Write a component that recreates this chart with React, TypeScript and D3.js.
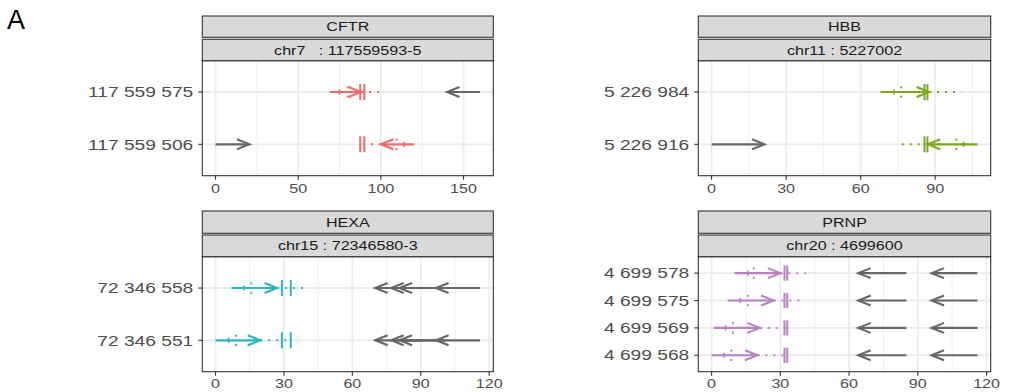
import React from 'react';
import * as d3 from 'd3';

// ---------- data ----------
const genes = ['CFTR', 'HBB', 'HEXA', 'PRNP'];
const loci = ['chr7   : 117559593-5', 'chr11 : 5227002', 'chr15 : 72346580-3', 'chr20 : 4699600'];
const rowLabels = [
  ['117 559 575', '117 559 506'],
  ['5 226 984', '5 226 916'],
  ['72 346 558', '72 346 551'],
  ['4 699 578', '4 699 575', '4 699 569', '4 699 568'],
];
const xTicks = [
  [0, 50, 100, 150],
  [0, 30, 60, 90],
  [0, 30, 60, 90, 120],
  [0, 30, 60, 90, 120],
];
// guide (coloured) arrows, one per row
const guideTail = [[69, 120], [68, 107], [7, 0], [10, 7, 1, 0]];
const guideTip = [[88, 100], [87.5, 87], [27, 19.6], [30, 27, 21, 20]];
const guideDotEnd = [[102, 88], [100.5, 74.3], [39.7, 33], [43, 40, 33.5, 33]];
const plusPos = [[75, 114], [73.4, 101.4], [12.4, 5.8], [15.8, 12.5, 6.1, 5.4]];
const colonPos = [[80, 109.5], [76.3, 98.5], [15.7, 9], [18.4, 15.8, 9.3, 8.6]];
const cutBars = [[87.5, 90], [85.7, 86.9], [29.1, 33], [31.8, 33]];
// other (grey) arrows
const otherRow = [[0, 1], [1], [0, 0, 0, 0, 1, 1, 1, 1], [0, 0, 1, 1, 2, 2, 3, 3]];
const otherTail = [[160, 0], [0], [90, 97, 101, 116, 90, 97, 101, 116], [85, 116, 85, 116, 85, 116, 85, 116]];
const otherTip = [[140, 20.5], [21.3], [70, 77, 80.7, 96.7, 70, 77, 80.7, 96.7], [64, 96, 64, 96, 64, 96, 64, 96]];

// ---------- style ----------
const geneColors = ['#EF6B6B', '#7AAA1E', '#2CB5C1', '#B781C2'];
const greyArrow = '#696666';
const FONT = '"Liberation Sans", Arial, Helvetica, sans-serif';
const SX = 1.24;
const colX = [[202.3, 493.3], [698.3, 990.7]];
const rowLayout = [
  { s1: [16, 37.3], s2: [39.3, 60.7], p: [60.7, 175.7], tickBase: 192.5 },
  { s1: [211, 233.3], s2: [235, 256.7], p: [256.7, 371.7], tickBase: 387.5 },
];

function T({ x, y, anchor = 'middle', size = 13, fill = '#4D4D4D', sx = SX, children }: any) {
  return (
    <text
      transform={`translate(${x},${y}) scale(${sx},1)`}
      textAnchor={anchor}
      fontFamily={FONT}
      fontSize={size}
      fill={fill}
      style={{ whiteSpace: 'pre' }}
    >
      {children}
    </text>
  );
}

function Arrow({ x, tail, tip, y, color, w = 2.1 }: any) {
  const x0 = x(tail);
  const x1 = x(tip);
  const dir = Math.sign(x1 - x0) || 1;
  const hl = 12.5;
  const hh = 5;
  return (
    <g stroke={color} strokeWidth={w} fill="none">
      <line x1={x0} x2={x1} y1={y} y2={y} />
      <polyline
        points={`${x1 - dir * hl},${y - hh} ${x1},${y} ${x1 - dir * hl},${y + hh}`}
        strokeLinejoin="miter"
        strokeMiterlimit={3}
      />
    </g>
  );
}

function Panel({ gi }: { gi: number }) {
  const col = gi % 2;
  const row = Math.floor(gi / 2);
  const [px0, px1] = colX[col];
  const L = rowLayout[row];
  const [py0, py1] = L.p;

  const allVals = [
    ...guideTail[gi], ...guideTip[gi], ...guideDotEnd[gi],
    ...otherTail[gi], ...otherTip[gi], 0,
  ];
  const lo = d3.min(allVals)!;
  const hi = d3.max(allVals)!;
  const pad = (hi - lo) * 0.05;
  const x = d3.scaleLinear().domain([lo - pad, hi + pad]).range([px0, px1]);
  const y = d3.scalePoint<string>().domain(rowLabels[gi]).range([py0, py1]).padding(0.6);

  const ticks = xTicks[gi];
  const step = ticks[1] - ticks[0];
  const [d0, d1] = x.domain();
  const minors = d3.range(ticks[0] - step / 2, ticks[ticks.length - 1] + step, step)
    .filter((v) => v > d0 && v < d1);

  const color = geneColors[gi];
  const barH = rowLabels[gi].length > 2 ? 7.6 : 8;

  return (
    <g>
      <rect x={px0} y={py0} width={px1 - px0} height={py1 - py0} fill="#fff" />
      {minors.map((v) => (
        <line key={'m' + v} x1={x(v)} x2={x(v)} y1={py0} y2={py1} stroke="#EFEFEF" strokeWidth={1} />
      ))}
      {ticks.map((v) => (
        <line key={'t' + v} x1={x(v)} x2={x(v)} y1={py0} y2={py1} stroke="#EBEBEB" strokeWidth={1.7} />
      ))}
      {rowLabels[gi].map((r) => (
        <line key={'h' + r} x1={px0} x2={px1} y1={y(r)} y2={y(r)} stroke="#EBEBEB" strokeWidth={1.9} />
      ))}

      {otherRow[gi].map((ri, k) => (
        <Arrow key={'o' + k} x={x} tail={otherTail[gi][k]} tip={otherTip[gi][k]} y={y(rowLabels[gi][ri])!} color={greyArrow} />
      ))}

      {rowLabels[gi].map((r, ri) => {
        const yy = y(r)!;
        const tip = guideTip[gi][ri];
        const pX = x(plusPos[gi][ri]);
        const cX = x(colonPos[gi][ri]);
        return (
          <g key={'g' + ri}>
            <line
              x1={x(tip)} x2={x(guideDotEnd[gi][ri])} y1={yy} y2={yy}
              stroke={color} strokeWidth={2} strokeDasharray="2 6"
            />
            <Arrow x={x} tail={guideTail[gi][ri]} tip={tip} y={yy} color={color} />
            <g stroke={color} strokeWidth={1.6}>
              <line x1={pX - 2} x2={pX + 2} y1={yy} y2={yy} />
              <line x1={pX} x2={pX} y1={yy - 2.6} y2={yy + 2.6} />
            </g>
            <g fill={color}>
              <rect x={cX - 1} y={yy - 5.7} width={2} height={2} />
              <rect x={cX - 1} y={yy + 3.7} width={2} height={2} />
            </g>
            {cutBars[gi].map((b, bi) => (
              <line key={bi} x1={x(b)} x2={x(b)} y1={yy - barH} y2={yy + barH} stroke={color} strokeWidth={2} />
            ))}
          </g>
        );
      })}

      <rect x={px0} y={py0} width={px1 - px0} height={py1 - py0} fill="none" stroke="#333333" strokeWidth={1.1} />

      {[L.s1, L.s2].map((s, si) => (
        <g key={'s' + si}>
          <rect x={px0} y={s[0]} width={px1 - px0} height={s[1] - s[0]} fill="#D9D9D9" stroke="#333333" strokeWidth={1.1} />
          <T x={(px0 + px1) / 2} y={(s[0] + s[1]) / 2 + 4.6} fill="#1A1A1A">
            {si === 0 ? genes[gi] : loci[gi]}
          </T>
        </g>
      ))}

      {ticks.map((v) => (
        <g key={'xt' + v}>
          <line x1={x(v)} x2={x(v)} y1={py1} y2={py1 + 4} stroke="#333333" strokeWidth={1.1} />
          <T x={x(v)} y={L.tickBase}>{String(v)}</T>
        </g>
      ))}

      {rowLabels[gi].map((r) => (
        <g key={'yt' + r}>
          <line x1={px0 - 4} x2={px0} y1={y(r)} y2={y(r)} stroke="#333333" strokeWidth={1.1} />
          <T x={px0 - 9} y={y(r)! + 5.2} anchor="end" size={15.5}>{r}</T>
        </g>
      ))}
    </g>
  );
}

export default function App() {
  return (
    <svg
      width={1019}
      height={392}
      style={{ position: 'absolute', left: 0, top: 0, background: '#fff' }}
    >
      <rect width={1019} height={392} fill="#fff" />
      <T x={7} y={29} anchor="start" size={27} fill="#000" sx={1.0}>A</T>
      {genes.map((g, gi) => (
        <Panel key={g} gi={gi} />
      ))}
    </svg>
  );
}
